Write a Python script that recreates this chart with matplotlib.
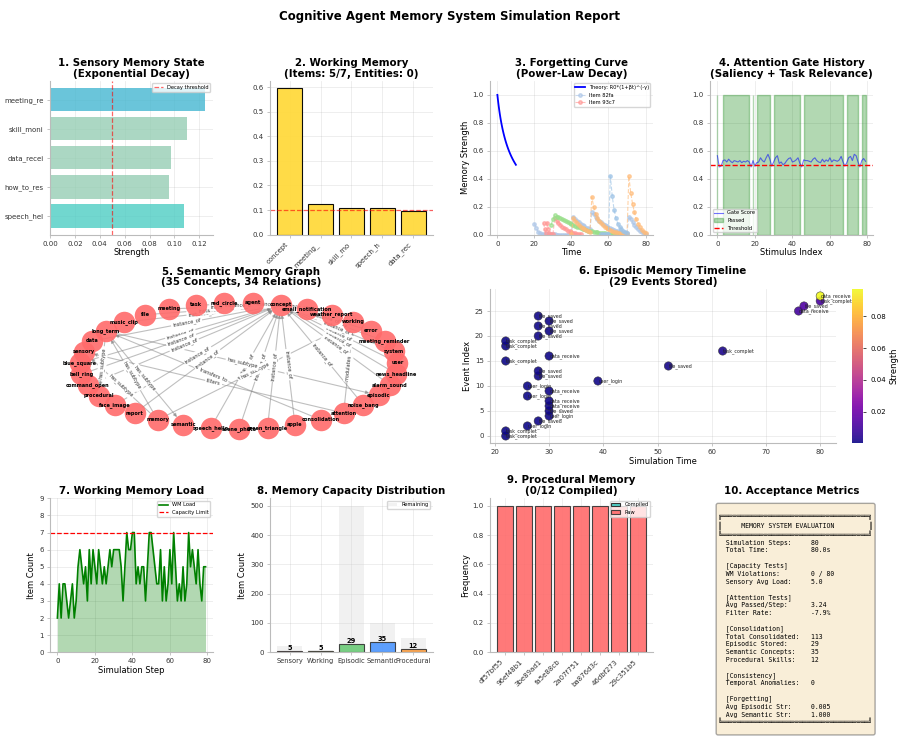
import numpy as np
import matplotlib
matplotlib.use("Agg")
import matplotlib.pyplot as plt
from matplotlib.gridspec import GridSpec

plt.rcParams['font.family'] = ['DejaVu Sans']

# ---------------- data ----------------
sens_labels = ['speech_hel', 'how_to_res', 'data_recei', 'skill_moni', 'meeting_re']
sens_strength = [0.108, 0.096, 0.097, 0.110, 0.125]
sens_colors = ['#4ECDC4', '#96CEB4', '#96CEB4', '#96CEB4', '#45B7D1']
sens_threshold = 0.05

wm_labels = ['concept', 'meeting_', 'skill_mo', 'speech_h', 'data_rec']
wm_activation = [0.595, 0.125, 0.110, 0.107, 0.097]
wm_threshold = 0.1

theory_R0, theory_beta, theory_gamma = 1.0, 0.2, 0.631

item_a_t = list(range(20, 81))
item_a_s = [0.08, 0.05, 0.02, 0.01, 0.005, 0.004, 0.003, 0.003, 0.002, 0.002,
            0.002, 0.002, 0.001, 0.001, 0.001, 0.001, 0.001, 0.001, 0.001, 0.001,
            0.001, 0.13, 0.115, 0.10, 0.09, 0.08, 0.07, 0.06, 0.05, 0.045,
            0.04, 0.16, 0.145, 0.13, 0.115, 0.10, 0.09, 0.08, 0.07, 0.06,
            0.05, 0.045, 0.04, 0.035, 0.03, 0.025, 0.02, 0.018, 0.015, 0.012,
            0.01, 0.13, 0.11, 0.09, 0.07, 0.055, 0.04, 0.03, 0.02, 0.01, 0.005]
item_b_t = [25, 25.5, 26, 27, 27.5, 28, 29, 30, 31, 32, 33, 34, 35, 36, 37, 38, 39, 40, 41, 42, 43, 44, 45]
item_b_s = [0.085, 0.04, 0.01, 0.085, 0.04, 0.01, 0.005, 0.005, 0.12, 0.10, 0.085, 0.07, 0.058,
            0.047, 0.038, 0.03, 0.024, 0.018, 0.013, 0.01, 0.007, 0.005, 0.003]
item_c_t = list(range(29, 67))
item_c_s = [0.07, 0.11, 0.14, 0.13, 0.125, 0.118, 0.11, 0.103, 0.096, 0.089,
            0.082, 0.075, 0.069, 0.063, 0.057, 0.052, 0.047, 0.042, 0.038, 0.034,
            0.030, 0.027, 0.024, 0.021, 0.018, 0.016, 0.014, 0.012, 0.010, 0.009,
            0.008, 0.007, 0.006, 0.005, 0.004, 0.003, 0.002, 0.001]
item_d_t = list(range(40, 81))
item_d_s = [0.005, 0.12, 0.10, 0.085, 0.07, 0.058, 0.048, 0.04, 0.033, 0.027,
            0.022, 0.27, 0.2, 0.15, 0.12, 0.1, 0.085, 0.07, 0.058, 0.048,
            0.04, 0.033, 0.027, 0.022, 0.018, 0.015, 0.012, 0.01, 0.008, 0.006,
            0.005, 0.42, 0.3, 0.22, 0.16, 0.11, 0.08, 0.055, 0.035, 0.02, 0.01]
item_e_t = list(range(56, 71))
item_e_s = [0.002, 0.002, 0.002, 0.002, 0.002, 0.42, 0.28, 0.18, 0.12, 0.08, 0.055, 0.04, 0.03, 0.02, 0.015]

gate_scores = [0.565, 0.485, 0.49, 0.53, 0.535, 0.52, 0.54, 0.525, 0.515, 0.53,
               0.525, 0.52, 0.53, 0.515, 0.525, 0.52, 0.53, 0.52, 0.485, 0.53,
               0.49, 0.515, 0.52, 0.55, 0.53, 0.52, 0.55, 0.575, 0.54, 0.49,
               0.52, 0.55, 0.565, 0.51, 0.52, 0.50, 0.51, 0.53, 0.545, 0.55,
               0.52, 0.525, 0.535, 0.55, 0.51, 0.485, 0.535, 0.53, 0.53, 0.525,
               0.52, 0.54, 0.55, 0.53, 0.52, 0.515, 0.54, 0.52, 0.535, 0.525,
               0.55, 0.52, 0.535, 0.53, 0.525, 0.535, 0.56, 0.52, 0.49, 0.515,
               0.55, 0.56, 0.53, 0.575, 0.565, 0.52, 0.485, 0.53, 0.545, 0.525]
gate_passed = [1, 0, 0, 1, 1, 1, 1, 1, 1, 1, 1, 1, 1, 1, 1, 1, 1, 1, 0, 1,
               0, 1, 1, 1, 1, 1, 1, 1, 1, 0, 1, 1, 1, 1, 1, 1, 1, 1, 1, 1,
               1, 1, 1, 1, 1, 0, 1, 1, 1, 1, 1, 1, 1, 1, 1, 1, 1, 1, 1, 1,
               1, 1, 1, 1, 1, 1, 1, 1, 0, 1, 1, 1, 1, 1, 1, 1, 0, 1, 1, 1]
gate_threshold = 0.5

graph_nodes = ['agent', 'concept', 'email_notification', 'weather_report', 'working', 'error',
               'meeting_reminder', 'system', 'user', 'news_headline', 'alarm_sound', 'episodic',
               'noise_bang', 'attention', 'consolidation', 'apple', 'green_triangle', 'scene_photo',
               'speech_hello', 'semantic', 'memory', 'report', 'face_image', 'procedural',
               'command_open', 'bell_ring', 'blue_square', 'sensory', 'data', 'long_term',
               'music_clip', 'file', 'meeting', 'task', 'red_circle']
instance_nodes = ['red_circle', 'blue_square', 'green_triangle', 'apple', 'speech_hello',
                  'alarm_sound', 'music_clip', 'noise_bang', 'bell_ring', 'face_image',
                  'scene_photo', 'news_headline', 'weather_report', 'email_notification',
                  'meeting_reminder', 'command_open', 'file', 'data', 'error', 'report',
                  'meeting', 'task', 'user', 'system', 'agent']
graph_edges = [(n, 'concept', 'instance_of') for n in instance_nodes] + [
    ('memory', 'sensory', 'has_subtype'), ('memory', 'working', 'has_subtype'),
    ('memory', 'long_term', 'has_subtype'), ('long_term', 'episodic', 'has_subtype'),
    ('long_term', 'semantic', 'has_subtype'), ('long_term', 'procedural', 'has_subtype'),
    ('consolidation', 'long_term', 'transfers_to'), ('attention', 'working', 'modulates'),
    ('attention', 'sensory', 'filters')]

ep_time = [22, 22, 26, 28, 30, 30, 30, 30, 26, 30, 26, 39, 28, 28, 52, 22, 30, 62, 22, 22,
           28, 30, 28, 30, 28, 76, 77, 80, 80]
ep_event = ['task_completed', 'task_completed', 'user_login', 'file_saved', 'user_login',
            'file_saved', 'data_received', 'data_received', 'user_login', 'data_received',
            'user_login', 'user_login', 'file_saved', 'file_saved', 'file_saved',
            'task_completed', 'data_received', 'task_completed', 'task_completed',
            'task_completed', 'file_saved', 'file_saved', 'file_saved', 'file_saved',
            'file_saved', 'data_received', 'file_saved', 'task_completed', 'data_received']
ep_strength = [0.0005, 0.0005, 0.0008, 0.0009, 0.001, 0.001, 0.001, 0.001, 0.0008, 0.001,
               0.0008, 0.0015, 0.0009, 0.0009, 0.002, 0.0005, 0.001, 0.003, 0.0005, 0.0005,
               0.0009, 0.001, 0.0009, 0.001, 0.0009, 0.011, 0.014, 0.012, 0.097]

wm_load = [2, 4, 2, 4, 4, 3, 2, 3, 4, 2, 3, 5, 6, 5, 4, 5, 3, 6, 4, 6,
           5, 4, 6, 5, 4, 5, 4, 5, 6, 5, 6, 6, 6, 6, 5, 3, 5, 7, 6, 6,
           7, 7, 4, 5, 4, 5, 5, 3, 5, 7, 7, 6, 5, 4, 4, 6, 3, 5, 3, 4,
           6, 4, 7, 5, 3, 4, 3, 5, 3, 4, 7, 5, 6, 5, 4, 6, 4, 3, 5, 5]
wm_capacity = 7

cap_names = ['Sensory', 'Working', 'Episodic', 'Semantic', 'Procedural']
cap_used = [5, 5, 29, 35, 12]
cap_max = [20, 7, 500, 100, 50]
cap_colors = ['#FF6B6B', '#FFD93D', '#6BCB77', '#4D96FF', '#FF9F43']

proc_ids = ['df57bf55', '96ef48b1', '3be89ad1', 'fa5e88cb', '2a07f751', 'ba876d3c', '46dbf273', '29c351b5']
proc_compiled = [0, 0, 0, 0, 0, 0, 0, 0]
proc_raw = [1, 1, 1, 1, 1, 1, 1, 1]

metric_sections = [
    (None, [('Simulation Steps:', '80'), ('Total Time:', '80.0s')]),
    ('[Capacity Tests]', [('WM Violations:', '0 / 80'), ('Sensory Avg Load:', '5.0')]),
    ('[Attention Tests]', [('Avg Passed/Step:', '3.24'), ('Filter Rate:', '-7.9%')]),
    ('[Consolidation]', [('Total Consolidated:', '113'), ('Episodic Stored:', '29'),
                         ('Semantic Concepts:', '35'), ('Procedural Skills:', '12')]),
    ('[Consistency]', [('Temporal Anomalies:', '0')]),
    ('[Forgetting]', [('Avg Episodic Str:', '0.005'), ('Avg Semantic Str:', '1.000')]),
]

# ---------------- figure ----------------
TS, LS, TK, LG = 7.4, 6, 5, 3.7

fig = plt.figure(figsize=(8.99, 7.42), dpi=100)
gs = GridSpec(3, 4, figure=fig, left=0.0556, right=0.971, top=0.891, bottom=0.121,
              wspace=0.35, hspace=0.357)


def style(ax):
    ax.set_facecolor('white')
    for s in ['top', 'right']:
        ax.spines[s].set_visible(False)
    for s in ['left', 'bottom']:
        ax.spines[s].set_color('#bbbbbb')
        ax.spines[s].set_linewidth(0.8)
    ax.tick_params(labelsize=TK, colors='#333333', length=2.5, width=0.6, pad=2)
    ax.tick_params(color='#bbbbbb')
    ax.grid(True, alpha=0.3, linewidth=0.5)
    ax.set_axisbelow(True)


def title(ax, t):
    ax.set_title(t, fontsize=TS, fontweight='bold', pad=3, linespacing=1.1)


fig.suptitle('Cognitive Agent Memory System Simulation Report', fontsize=8.5,
             fontweight='bold', y=0.987)

# 1
ax1 = fig.add_subplot(gs[0, 0])
style(ax1)
ax1.barh(range(len(sens_labels)), sens_strength, color=sens_colors, alpha=0.8)
ax1.axvline(sens_threshold, color='red', linestyle='--', alpha=0.6, linewidth=0.9,
            label='Decay threshold')
ax1.set_yticks(range(len(sens_labels)))
ax1.set_yticklabels(sens_labels)
ax1.set_xlabel('Strength', fontsize=LS, labelpad=1)
ax1.set_xticks(np.arange(0, 0.121, 0.02))
ax1.set_xlim(0, 0.131)
ax1.legend(fontsize=LG, loc='upper right', handlelength=1.8, borderpad=0.3)
title(ax1, '1. Sensory Memory State\n(Exponential Decay)')

# 2
ax2 = fig.add_subplot(gs[0, 1])
style(ax2)
ax2.bar(range(len(wm_labels)), wm_activation, color='#FFD93D', edgecolor='black',
        linewidth=0.8, alpha=0.95)
ax2.axhline(wm_threshold, color='red', linestyle='--', alpha=0.6, linewidth=0.9)
ax2.set_xticks(range(len(wm_labels)))
ax2.set_xticklabels(wm_labels, rotation=45, ha='right')
ax2.set_ylim(0, 0.625)
title(ax2, '2. Working Memory\n(Items: 5/7, Entities: 0)')

# 3
ax3 = fig.add_subplot(gs[0, 2])
style(ax3)
tt = np.linspace(0, 10, 60)
ax3.plot(tt, theory_R0 * (1 + theory_beta * tt) ** (-theory_gamma), color='blue',
         linewidth=1.3, label='Theory: R0*(1+βt)^(-γ)')
items = [(item_a_t, item_a_s, '#aec7e8', 'Item 82fa'),
         (item_b_t, item_b_s, '#ff9896', 'Item 93c7'),
         (item_c_t, item_c_s, '#98df8a', None),
         (item_d_t, item_d_s, '#ffbb78', None),
         (item_e_t, item_e_s, '#9dc3e6', None)]
for t_, s_, c_, lab in items:
    ax3.plot(t_, s_, 'o--', color=c_, markersize=2.5, linewidth=0.8, alpha=0.65, label=lab)
ax3.set_ylim(0, 1.1)
ax3.set_xlim(-4, 84)
ax3.set_xticks([0, 20, 40, 60, 80])
ax3.set_xlabel('Time', fontsize=LS, labelpad=1)
ax3.set_ylabel('Memory Strength', fontsize=LS, labelpad=2)
ax3.legend(fontsize=LG, loc='upper right', handlelength=1.8, borderpad=0.3)
title(ax3, '3. Forgetting Curve\n(Power-Law Decay)')

# 4
ax4 = fig.add_subplot(gs[0, 3])
style(ax4)
xs = np.arange(len(gate_scores))
ax4.plot(xs, gate_scores, color='blue', alpha=0.55, linewidth=0.8, label='Gate Score')
ax4.fill_between(xs, 0, 1, where=np.array(gate_passed) == 1, color='green', alpha=0.3,
                 label='Passed')
ax4.axhline(gate_threshold, color='red', linestyle='--', linewidth=1, label='Threshold')
ax4.set_ylim(0, 1.1)
ax4.set_yticks(np.arange(0, 1.01, 0.2))
ax4.set_xticks([0, 20, 40, 60, 80])
ax4.set_xlabel('Stimulus Index', fontsize=LS, labelpad=1)
ax4.legend(fontsize=LG, loc='lower left', handlelength=1.8, borderpad=0.3)
title(ax4, '4. Attention Gate History\n(Saliency + Task Relevance)')

# 5 graph
ax5 = fig.add_subplot(gs[1, 0:2])
ax5.axis('off')
ax5.set_xlim(-1.188, 1.222)
ax5.set_ylim(-1.234, 1.205)
ang = np.deg2rad(5 + 360.0 / len(graph_nodes) * np.arange(len(graph_nodes)))
pos = {n: (np.sin(a), np.cos(a)) for n, a in zip(graph_nodes, ang)}
for src, dst, rel in graph_edges:
    (x1, y1), (x2, y2) = pos[src], pos[dst]
    ax5.annotate('', xy=(x2, y2), xytext=(x1, y1),
                 arrowprops=dict(arrowstyle='-|>', color='gray', alpha=0.5, lw=0.8,
                                 shrinkA=7, shrinkB=7, mutation_scale=5), zorder=1)
    d1 = ax5.transData.transform((x1, y1))
    d2 = ax5.transData.transform((x2, y2))
    a = np.degrees(np.arctan2(d2[1] - d1[1], d2[0] - d1[0]))
    if a > 90:
        a -= 180
    if a < -90:
        a += 180
    ax5.text((x1 + x2) / 2, (y1 + y2) / 2, rel, fontsize=3.6, rotation=a, ha='center',
             va='center', rotation_mode='anchor', color='#333333', zorder=1.5,
             bbox=dict(boxstyle='round,pad=0.15', fc='white', ec='white'))
nx_ = [pos[n][0] for n in graph_nodes]
ny_ = [pos[n][1] for n in graph_nodes]
ax5.scatter(nx_, ny_, s=240, color='#FF6B6B', alpha=0.9, linewidths=0, zorder=2)
for n in graph_nodes:
    ax5.text(pos[n][0], pos[n][1], n, fontsize=3.6, fontweight='bold', ha='center',
             va='center', zorder=3)
title(ax5, '5. Semantic Memory Graph\n(35 Concepts, 34 Relations)')

# 6 episodic
ax6 = fig.add_subplot(gs[1, 2:4])
ax6.set_position([490 / 899, 0.403, (836 - 490) / 899, 0.2075])
style(ax6)
sc = ax6.scatter(ep_time, range(len(ep_time)), c=ep_strength, cmap='plasma', s=36,
                 edgecolors='#333333', linewidths=0.4, alpha=0.9)
for i, (t_, e_) in enumerate(zip(ep_time, ep_event)):
    ax6.text(t_ + 0.1, i, e_[:12], fontsize=3.4, va='center', color='#222222')
ax6.set_xlabel('Simulation Time', fontsize=LS, labelpad=1)
ax6.set_ylabel('Event Index', fontsize=LS, labelpad=2)
cax = fig.add_axes([852 / 899, 0.403, 11 / 899, 0.2075])
cb = fig.colorbar(sc, cax=cax)
cb.outline.set_visible(False)
cb.ax.tick_params(labelsize=TK, length=2, width=0.5)
cb.set_label('Strength', fontsize=LS, labelpad=2)
title(ax6, '6. Episodic Memory Timeline\n(29 Events Stored)')

# 7
ax7 = fig.add_subplot(gs[2, 0])
style(ax7)
steps = np.arange(len(wm_load))
ax7.fill_between(steps, wm_load, color='green', alpha=0.3, linewidth=0)
ax7.plot(steps, wm_load, color='green', linewidth=1.2, label='WM Load')
ax7.axhline(wm_capacity, color='red', linestyle='--', linewidth=0.9, label='Capacity Limit')
ax7.set_ylim(0, 9)
ax7.set_yticks(range(10))
ax7.set_xticks([0, 20, 40, 60, 80])
ax7.set_xlabel('Simulation Step', fontsize=LS, labelpad=1)
ax7.set_ylabel('Item Count', fontsize=LS, labelpad=2)
ax7.legend(fontsize=LG, loc='upper right', handlelength=1.8, borderpad=0.3)
title(ax7, '7. Working Memory Load')

# 8
ax8 = fig.add_subplot(gs[2, 1])
style(ax8)
xc = np.arange(len(cap_names))
ax8.bar(xc, cap_max, color='lightgray', alpha=0.3, label='Remaining')
bars = ax8.bar(xc, cap_used, color=cap_colors, edgecolor='#333333', linewidth=0.8, alpha=0.9)
for b, v in zip(bars, cap_used):
    ax8.text(b.get_x() + b.get_width() / 2, v, str(v), ha='center', va='bottom',
             fontsize=4.8, fontweight='bold')
ax8.set_xticks(xc)
ax8.set_xticklabels(cap_names)
ax8.tick_params(axis='x', labelsize=4.8)
ax8.set_ylabel('Item Count', fontsize=LS, labelpad=2)
ax8.legend(fontsize=LG, loc='upper right', handlelength=1.8, borderpad=0.3)
title(ax8, '8. Memory Capacity Distribution')

# 9
ax9 = fig.add_subplot(gs[2, 2])
style(ax9)
xp = np.arange(len(proc_ids))
ax9.bar(xp, proc_compiled, color='#4ECDC4', edgecolor='#333333', linewidth=0.8, label='Compiled')
ax9.bar(xp, proc_raw, bottom=proc_compiled, color='#FF6B6B', edgecolor='#333333',
        linewidth=0.8, alpha=0.9, label='Raw')
ax9.set_xticks(xp)
ax9.set_xticklabels(proc_ids, rotation=45, ha='right')
ax9.set_ylabel('Frequency', fontsize=LS, labelpad=2)
ax9.legend(fontsize=LG, loc='upper right', handlelength=1.8, borderpad=0.3)
title(ax9, '9. Procedural Memory\n(0/12 Compiled)')

# 10
ax10 = fig.add_subplot(gs[2, 3])
ax10.axis('off')
W = 38
lines = ['', '╔' + '═' * W + '╗',
         '║' + '     MEMORY SYSTEM EVALUATION'.ljust(W) + '║',
         '╚' + '═' * W + '╝']
for head, rows in metric_sections:
    if head is not None:
        lines.append('')
        lines.append('  ' + head)
    for lab, val in rows:
        lines.append('  ' + lab.ljust(22) + val)
lines.append('╚' + '═' * W + '╝')
lines.append('')
ax10.text(0.05, 0.955, '\n'.join(lines), transform=ax10.transAxes, fontsize=4.7,
          family='DejaVu Sans Mono', va='top', ha='left', clip_on=False, linespacing=1.33,
          bbox=dict(boxstyle='round,pad=0.3', facecolor='wheat', alpha=0.5, edgecolor='#555555'))
title(ax10, '10. Acceptance Metrics')

fig.savefig('out.png', dpi=100)
